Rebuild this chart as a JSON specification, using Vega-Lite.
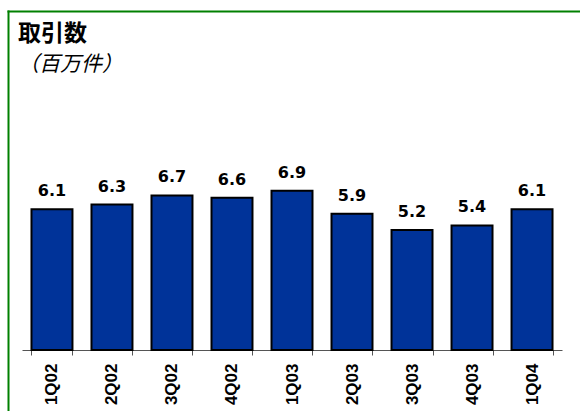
{
  "$schema": "https://vega.github.io/schema/vega-lite/v6.json",
  "autosize": "none",
  "padding": {"left": 8, "top": 11, "right": 0, "bottom": 0},
  "width": 572,
  "height": 400,
  "background": "white",
  "title": {
    "text": "取引数",
    "subtitle": "（百万件）",
    "anchor": "start",
    "frame": "group",
    "orient": "top",
    "baseline": "top",
    "offset": -58,
    "dx": 10,
    "dy": 6,
    "font": "Noto Sans CJK JP",
    "fontSize": 23,
    "fontWeight": "bold",
    "color": "black",
    "subtitleFont": "Noto Sans CJK JP",
    "subtitleFontSize": 21,
    "subtitleFontStyle": "italic",
    "subtitleColor": "black",
    "subtitlePadding": 8
  },
  "data": {
    "values": [
      {"q": "1Q02", "v": 6.1},
      {"q": "2Q02", "v": 6.3},
      {"q": "3Q02", "v": 6.7},
      {"q": "4Q02", "v": 6.6},
      {"q": "1Q03", "v": 6.9},
      {"q": "2Q03", "v": 5.9},
      {"q": "3Q03", "v": 5.2},
      {"q": "4Q03", "v": 5.4},
      {"q": "1Q04", "v": 6.1}
    ]
  },
  "layer": [
    {
      "encoding": {
        "x": {
          "field": "q",
          "type": "nominal",
          "sort": null,
          "scale": {"range": [14, 554], "paddingInner": 0.317, "paddingOuter": 0.158},
          "axis": {
            "title": null,
            "orient": "bottom",
            "offset": -61,
            "labelAngle": -90,
            "labelFont": "Liberation Sans",
            "labelFontWeight": "bold",
            "labelFontSize": 17,
            "labelColor": "black",
            "labelPadding": 8,
            "domainColor": "#555555",
            "domainWidth": 1,
            "tickColor": "#555555",
            "tickSize": 5,
            "tickWidth": 1,
            "tickBand": "extent",
            "grid": false
          }
        },
        "y": {
          "field": "v",
          "type": "quantitative",
          "scale": {"domain": [0, 14.69], "range": [339, 0], "nice": false, "zero": true},
          "axis": null
        }
      },
      "layer": [
        {
          "mark": {"type": "bar", "fill": "#003399", "stroke": "black", "strokeWidth": 2}
        },
        {
          "mark": {
            "type": "text",
            "baseline": "alphabetic",
            "align": "center",
            "dy": -13,
            "font": "DejaVu Sans",
            "fontWeight": "bold",
            "fontSize": 16,
            "color": "black"
          },
          "encoding": {"text": {"field": "v", "type": "quantitative", "format": ".1f"}}
        }
      ]
    },
    {
      "mark": {"type": "point", "opacity": 0},
      "encoding": {
        "x": {
          "field": "v",
          "type": "quantitative",
          "scale": {"domain": [0, 10], "nice": false},
          "axis": {
            "orient": "top",
            "title": null,
            "labels": false,
            "ticks": false,
            "grid": false,
            "domainColor": "#008000",
            "domainWidth": 2,
            "domainCap": "square"
          }
        },
        "y": {
          "field": "v",
          "type": "quantitative",
          "scale": {"domain": [0, 10], "nice": false},
          "axis": {
            "orient": "left",
            "title": null,
            "labels": false,
            "ticks": false,
            "grid": false,
            "domainColor": "#008000",
            "domainWidth": 2,
            "domainCap": "square"
          }
        }
      }
    }
  ],
  "resolve": {"scale": {"x": "independent", "y": "independent"}, "axis": {"x": "independent", "y": "independent"}},
  "config": {
    "view": {"stroke": null}
  }
}
